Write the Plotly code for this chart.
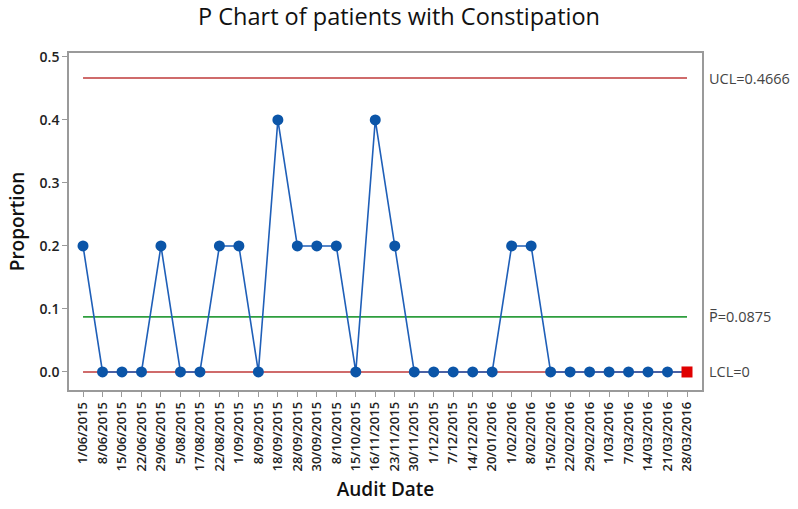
import plotly.graph_objects as go

dates = ["1/06/2015", "8/06/2015", "15/06/2015", "22/06/2015", "29/06/2015", "5/08/2015",
         "17/08/2015", "22/08/2015", "1/09/2015", "8/09/2015", "18/09/2015", "28/09/2015",
         "30/09/2015", "8/10/2015", "15/10/2015", "16/11/2015", "23/11/2015", "30/11/2015",
         "1/12/2015", "7/12/2015", "14/12/2015", "20/01/2016", "1/02/2016", "8/02/2016",
         "15/02/2016", "22/02/2016", "29/02/2016", "1/03/2016", "7/03/2016", "14/03/2016",
         "21/03/2016", "28/03/2016"]
proportion = [0.2, 0, 0, 0, 0.2, 0, 0, 0.2, 0.2, 0, 0.4, 0.2, 0.2, 0.2, 0, 0.4, 0.2, 0,
              0, 0, 0, 0, 0.2, 0.2, 0, 0, 0, 0, 0, 0, 0, 0]
ucl = 0.4666
pbar = 0.0875
lcl = 0.0
yticks = [0.0, 0.1, 0.2, 0.3, 0.4, 0.5]

font = "Open Sans, Noto Sans, sans-serif"
n = len(dates)
xidx = list(range(n))

fig = go.Figure()
fig.add_trace(go.Scatter(x=[xidx[0], xidx[-1]], y=[ucl, ucl], mode="lines",
                         line=dict(color="#BF3A3A", width=1.6), hoverinfo="skip"))
fig.add_trace(go.Scatter(x=[xidx[0], xidx[-1]], y=[pbar, pbar], mode="lines",
                         line=dict(color="#2E9E3E", width=1.6), hoverinfo="skip"))
fig.add_trace(go.Scatter(x=[xidx[0], xidx[-1]], y=[lcl, lcl], mode="lines",
                         line=dict(color="#BF3A3A", width=1.6), hoverinfo="skip"))
fig.add_trace(go.Scatter(x=xidx, y=proportion, mode="lines+markers",
                         line=dict(color="#1F5FB8", width=1.6),
                         marker=dict(color=["#0B55A8"] * (n - 1) + ["#E00000"],
                                     symbol=["circle"] * (n - 1) + ["square"],
                                     size=11, line=dict(width=0))))

ann_font = dict(family=font, size=14.5, color="#444")
fig.add_annotation(x=1, xref="paper", xshift=5, y=ucl, text="UCL=0.4666", showarrow=False,
                   xanchor="left", font=ann_font)
fig.add_annotation(x=1, xref="paper", xshift=5, y=pbar, text="P\u0305=0.0875", showarrow=False,
                   xanchor="left", font=ann_font)
fig.add_annotation(x=1, xref="paper", xshift=5, y=lcl, text="LCL=0", showarrow=False,
                   xanchor="left", font=ann_font)

fig.update_layout(
    width=798, height=509,
    margin=dict(l=69, r=96, t=53, b=119),
    paper_bgcolor="white", plot_bgcolor="white",
    showlegend=False,
    title=dict(text="P Chart of patients with Constipation", x=0.5, xanchor="center",
               y=1 - 17 / 509, yanchor="middle",
               font=dict(family=font, size=23.5, color="#111")),
    font=dict(family=font),
)
fig.update_xaxes(range=[-0.72, 31.77], tickvals=xidx, ticktext=dates, tickangle=-90,
                 showgrid=False, zeroline=False, showline=True, linecolor="#9a9a9a",
                 linewidth=1.5, mirror=True, ticks="outside", ticklen=5, tickcolor="#9a9a9a",
                 tickfont=dict(family=font, size=13, color="#222", weight=600),
                 title=dict(text="Audit Date", standoff=12,
                            font=dict(family=font, size=19, color="#111", weight=600)))
fig.update_yaxes(range=[-0.0286, 0.5063], tickvals=yticks,
                 ticktext=[f"{v:.1f}" for v in yticks],
                 showgrid=False, zeroline=False, showline=True, linecolor="#9a9a9a",
                 linewidth=1.5, mirror=True, ticks="outside", ticklen=5, tickcolor="#9a9a9a",
                 tickfont=dict(family=font, size=14, color="#222", weight=600),
                 title=dict(text="Proportion", standoff=10,
                            font=dict(family=font, size=19, color="#111", weight=600)))

fig.write_html("out.html", config={"displayModeBar": False},
               post_script="document.body.style.margin='0';document.body.style.padding='0';")
